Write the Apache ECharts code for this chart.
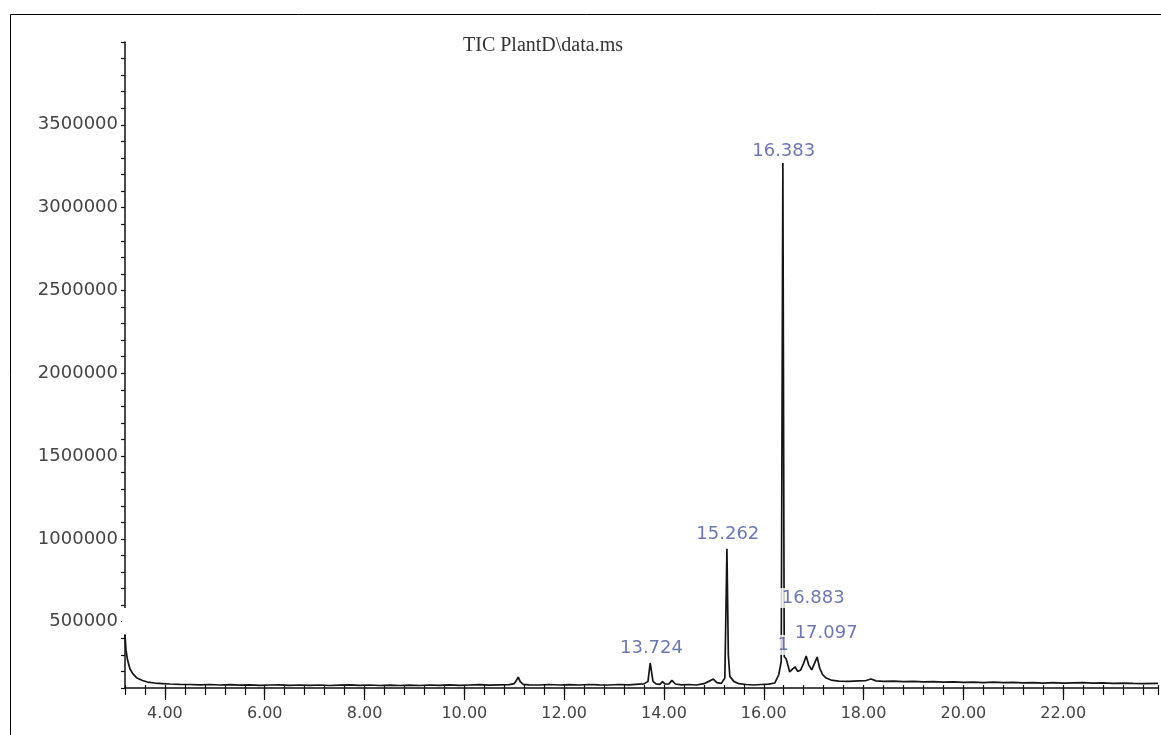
<!DOCTYPE html>
<html>
<head>
<meta charset="utf-8">
<script src="https://cdn.jsdelivr.net/npm/echarts@6/dist/echarts.min.js"></script>
<style>
html,body{margin:0;padding:0;background:#fff;}
#chart{width:1161px;height:735px;}
</style>
</head>
<body>
<div id="chart"></div>
<script>
// Retention times (min) and TIC abundances
const times = [3.20,3.22,3.25,3.30,3.36,3.44,3.55,3.65,3.80,3.95,4.10,4.30,4.50,4.70,4.90,5.10,5.30,5.50,5.70,5.90,
6.10,6.30,6.50,6.70,6.90,7.10,7.30,7.50,7.70,7.90,8.10,8.30,8.50,8.70,8.90,9.10,9.30,9.50,9.70,9.90,
10.10,10.30,10.50,10.70,10.90,11.00,11.05,11.08,11.12,11.18,11.30,11.50,11.70,11.90,12.10,12.30,12.50,12.70,12.90,
13.10,13.30,13.50,13.60,13.68,13.724,13.75,13.78,13.84,13.92,13.97,13.99,14.02,14.10,14.16,14.19,14.23,14.35,14.50,14.65,
14.80,14.90,14.99,15.06,15.15,15.22,15.262,15.29,15.32,15.40,15.50,15.65,15.80,15.95,16.10,16.22,16.30,16.35,16.383,16.41,16.45,
16.52,16.58,16.63,16.68,16.74,16.80,16.85,16.90,16.96,17.02,17.07,17.12,17.18,17.25,17.35,17.50,17.70,17.90,18.05,18.15,18.25,
18.40,18.60,18.80,19.00,19.20,19.40,19.60,19.80,20.00,20.20,20.40,20.60,20.80,21.00,21.20,21.40,21.60,21.80,22.00,22.20,22.40,
22.60,22.80,23.00,23.20,23.40,23.60,23.90];
const abundances = [420000,330000,270000,215000,185000,160000,145000,136000,130000,127000,124000,122000,121000,119000,121000,118000,120000,117000,119000,116000,
118000,119000,116000,118000,116000,118000,115000,117000,119000,116000,118000,115000,117000,115000,117000,115000,118000,116000,119000,116000,
118000,120000,117000,119000,120000,126000,150000,166000,138000,122000,119000,118000,121000,118000,120000,118000,121000,119000,118000,
121000,119000,123000,125000,140000,251000,200000,140000,125000,122000,138000,133000,124000,125000,146000,142000,124000,119000,121000,118000,
126000,140000,154000,132000,128000,160000,940000,300000,170000,140000,126000,121000,118000,121000,123000,130000,180000,260000,3270000,290000,275000,
197000,215000,227000,200000,209000,250000,293000,240000,209000,250000,287000,220000,180000,160000,148000,142000,140000,143000,145000,154000,143000,
140000,142000,138000,140000,137000,139000,135000,137000,134000,136000,133000,135000,132000,134000,131000,133000,130000,132000,129000,131000,132000,
129000,131000,128000,130000,128000,127000,128000];

// Peak annotations: text, label centre time, label centre abundance
const peakTexts = ["13.724","15.262","16.383","16.883","1","17.097"];
const peakLabelTimes = [13.75,15.28,16.40,16.99,16.39,17.25];
const peakLabelValues = [341000,1030000,3340000,643000,360000,432000];

// Axis ticks
const xMajorTicks = [4,6,8,10,12,14,16,18,20,22];
const yLabelValues = [500000,1000000,1500000,2000000,2500000,3000000,3500000];

const chart = echarts.init(document.getElementById('chart'), null, {renderer:'canvas'});

const lineData = times.map((t,i)=>[t, abundances[i]]);
const labelData = peakTexts.map((s,i)=>({value:[peakLabelTimes[i], peakLabelValues[i]], name:s}));

const border = {
  type:'rect', left:8, top:12, z:0,
  shape:{width:1200, height:760},
  style:{fill:'none', stroke:'#000', lineWidth:1}
};

const option = {
  animation:false,
  backgroundColor:'#fff',
  title:{
    text:'TIC PlantD\\data.ms',
    left:458, top:31,
    textStyle:{fontFamily:'Liberation Serif', fontSize:20, fontWeight:'normal', color:'#333'}
  },
  grid:{left:125, right:0, top:42, bottom:47},
  xAxis:[{
    type:'value', min:3.2, max:23.9, interval:0.4,
    axisLine:{show:true, lineStyle:{color:'#111', width:1.5}},
    axisTick:{show:true, length:7, lineStyle:{color:'#111', width:1.2}},
    splitLine:{show:false},
    axisLabel:{
      margin:18, color:'#444', fontFamily:'DejaVu Sans', fontSize:16,
      formatter:function(v){
        const r = Math.round(v);
        if (Math.abs(v-r)<1e-6 && xMajorTicks.indexOf(r)>=0) return v.toFixed(2);
        return '';
      }
    }
  },{
    type:'value', min:3.2, max:23.9, position:'bottom', gridIndex:0,
    axisLine:{show:false},
    axisTick:{show:true, length:12, customValues:xMajorTicks, lineStyle:{color:'#111', width:1.2}},
    axisLabel:{show:false},
    splitLine:{show:false}
  },{
    type:'value', min:3.2, max:23.9, interval:0.4, position:'bottom', gridIndex:0,
    axisLine:{show:false},
    axisTick:{show:true, inside:true, length:3, lineStyle:{color:'#111', width:1.2}},
    axisLabel:{show:false},
    splitLine:{show:false}
  }],
  yAxis:{
    type:'value', min:100000, max:4000000, interval:100000,
    axisLine:{show:true, lineStyle:{color:'#111', width:1.5}},
    axisTick:{show:true, length:4, lineStyle:{color:'#111', width:1.2}},
    splitLine:{show:false},
    axisLabel:{
      margin:7, color:'#444', fontFamily:'DejaVu Sans', fontSize:18,
      formatter:function(v){ return yLabelValues.indexOf(v)>=0 ? String(v) : ''; }
    }
  },
  series:[{
    type:'line', data:lineData, xAxisIndex:0, yAxisIndex:0,
    showSymbol:false, symbol:'none',
    lineStyle:{color:'#151515', width:1.7},
    z:2
  },{
    type:'scatter', data:labelData, symbolSize:0, xAxisIndex:0, yAxisIndex:0,
    z:5,
    label:{
      show:true, position:'inside', formatter:function(p){return p.name;},
      color:'#4a559a', fontFamily:'DejaVu Sans', fontSize:18,
      backgroundColor:'#fff', padding:[1,2]
    },
    emphasis:{disabled:true}
  }],
  graphic:[border]
};
chart.setOption(option);

// gap in the y axis line beside the 500000 label, as in the original plot
const yTop = chart.convertToPixel({yAxisIndex:0}, 583000);
const yBot = chart.convertToPixel({yAxisIndex:0}, 425000);
const xAx = chart.convertToPixel({xAxisIndex:0}, 3.2);
chart.setOption({graphic:[border,{
  type:'rect', z:100,
  shape:{x:xAx-3, y:yTop, width:6, height:yBot-yTop},
  style:{fill:'#fff'}
}]});
</script>
</body>
</html>
